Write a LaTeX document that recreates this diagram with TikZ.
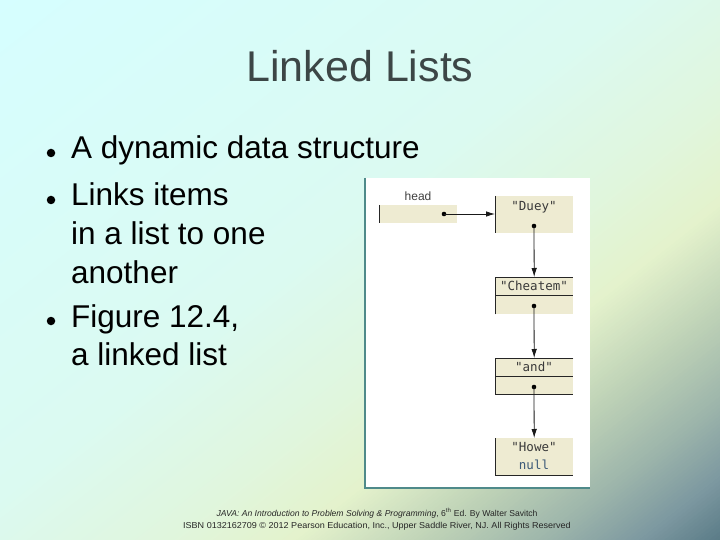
\documentclass[tikz,border=0pt]{standalone}
\usepackage{fontspec}
\setmainfont{Liberation Sans}
\newfontfamily\cellfont{DejaVu Sans Mono}
\usetikzlibrary{arrows.meta}
\definecolor{bgA}{HTML}{D6FEFF}
\definecolor{bgB}{HTML}{DBFAF1}
\definecolor{bgC}{HTML}{E0F6DE}
\definecolor{bgD}{HTML}{E4F2CC}
\definecolor{bgE}{HTML}{BDD1B6}
\definecolor{bgF}{HTML}{9DB5AB}
\definecolor{bgG}{HTML}{7C98A0}
\definecolor{bgH}{HTML}{5A7B87}
\definecolor{titlegray}{HTML}{3C4646}
\definecolor{beige}{HTML}{EEEBD2}
\definecolor{frameteal}{HTML}{4F8A8A}
\definecolor{cellink}{HTML}{3A3A3A}
\definecolor{nullblue}{HTML}{3D5A78}
\begin{document}
\begin{tikzpicture}[x=1pt,y=-1pt,
  titletext/.style={font=\fontsize{43}{50}\selectfont, text=titlegray, inner sep=0, anchor=base},
  bullettext/.style={font=\fontsize{31.5}{38}\selectfont, text=black, inner sep=0, anchor=base west},
  bulletdot/.style={circle, fill=black, minimum size=8.5pt, inner sep=0},
  cell/.style={fill=beige, inner sep=0, minimum width=78pt, anchor=north west},
  edge/.style={draw=black!85, line width=0.9pt},
  celltext/.style={font=\cellfont\fontsize{12.5}{14}\selectfont, text=cellink, inner sep=0},
  ptrdot/.style={circle, fill=black, minimum size=4.6pt, inner sep=0},
  link/.style={draw=black!90, line width=0.8pt, -{Latex[length=9pt,width=5.5pt]}},
  foot/.style={font=\fontsize{8.6}{10}\selectfont, text=black!85, inner sep=0, anchor=base}
]
\useasboundingbox (0,0) rectangle (720,540);
% background gradient (diagonal, towards the lower right corner)
\begin{scope}
\clip (0,0) rectangle (720,540);
\fill[bgA] (0,0) rectangle (720,540);
\begin{scope}[rotate=-51.8]
\foreach \ta/\tb/\ca/\cb in {0/390/bgA/bgB, 390/520/bgB/bgC, 520/605/bgC/bgD, 605/690/bgD/bgE, 690/760/bgE/bgF, 760/820/bgF/bgG, 820/869/bgG/bgH}{
  \pgfmathtruncatemacro\nsteps{max(1,round((\tb-\ta)/3))}
  \pgfmathsetmacro\dstep{(\tb-\ta)/\nsteps}
  \pgfmathsetmacro\pstep{100/\nsteps}
  \foreach \k in {0,...,\nsteps}{
    \pgfmathsetmacro\tpos{\ta+\dstep*\k}
    \pgfmathtruncatemacro\pc{round(\pstep*\k)}
    \fill[\cb!\pc!\ca] (\tpos,-700) rectangle (1000,700);
  }
}
\end{scope}
\end{scope}
% title
\node[titletext] (title) at (360,82) {Linked Lists};
% bullets
\node[bulletdot] (b1) at (51,153) {};
\node[bulletdot] (b2) at (51,200) {};
\node[bulletdot] (b3) at (51,321) {};
\node[bullettext] (t1) at (71,159) {A dynamic data structure};
\node[bullettext] (t2) at (71,206) {Links items};
\node[bullettext] (t3) at (71,244) {in a list to one};
\node[bullettext] (t4) at (71,283) {another};
\node[bullettext] (t5) at (71,327) {Figure 12.4,};
\node[bullettext] (t6) at (71,365) {a linked list};
% figure panel
\fill[white] (365,178) rectangle (590,488);
\draw[frameteal, line width=1.3pt] (365,178) -- (365,488) -- (590,488);
% cells
\node[cell, minimum height=18pt] (headbox) at (379,205) {};
\node[cell, minimum height=37pt] (duey) at (495,196) {};
\node[cell, minimum height=37pt] (cheatem) at (495,277) {};
\node[cell, minimum height=36pt] (and) at (495,358) {};
\node[cell, minimum height=37pt] (howe) at (495,438) {};
% cell borders
\draw[edge] (headbox.north west) -- (headbox.south west);
\draw[edge] (duey.north west) -- (duey.south west);
\draw[edge] (cheatem.south west) -- (cheatem.north west) -- (cheatem.north east);
\draw[edge] (cheatem.west) -- (cheatem.east);
\draw[edge] (and.north east) -- (and.north west) -- (and.south west) -- (and.south east);
\draw[edge] (and.west) -- (and.east);
\draw[edge] (howe.north west) -- (howe.south west) -- (howe.south east);
% labels
\node[font=\fontsize{12}{14}\selectfont, text=black!75, inner sep=0] (headlbl) at (418,196) {head};
\node[celltext] (lduey) at (534,207) {"Duey"};
\node[celltext] (lcheatem) at (534,286) {"Cheatem"};
\node[celltext] (land) at (534,367) {"and"};
\node[celltext] (lhowe) at (534,447) {"Howe"};
\node[celltext, text=nullblue] (lnull) at (534,465) {null};
% pointers
\node[ptrdot] (hd) at (444,214) {};
\node[ptrdot] (d1) at (534,226) {};
\node[ptrdot] (d2) at (534,306) {};
\node[ptrdot] (d3) at (534,387) {};
\draw[link] (hd.center) -- (hd -| duey.west);
\draw[link] (d1.center) -- (cheatem.north);
\draw[link] (d2.center) -- (and.north);
\draw[link] (d3.center) -- (howe.north);
% footer
\node[foot] (f1) at (377,516) {\textit{JAVA: An Introduction to Problem Solving \& Programming}, 6\textsuperscript{th} Ed. By Walter Savitch};
\node[foot, xscale=1.05, transform shape] (f2) at (377,528) {ISBN 0132162709 © 2012 Pearson Education, Inc., Upper Saddle River, NJ. All Rights Reserved};
\end{tikzpicture}
\end{document}
